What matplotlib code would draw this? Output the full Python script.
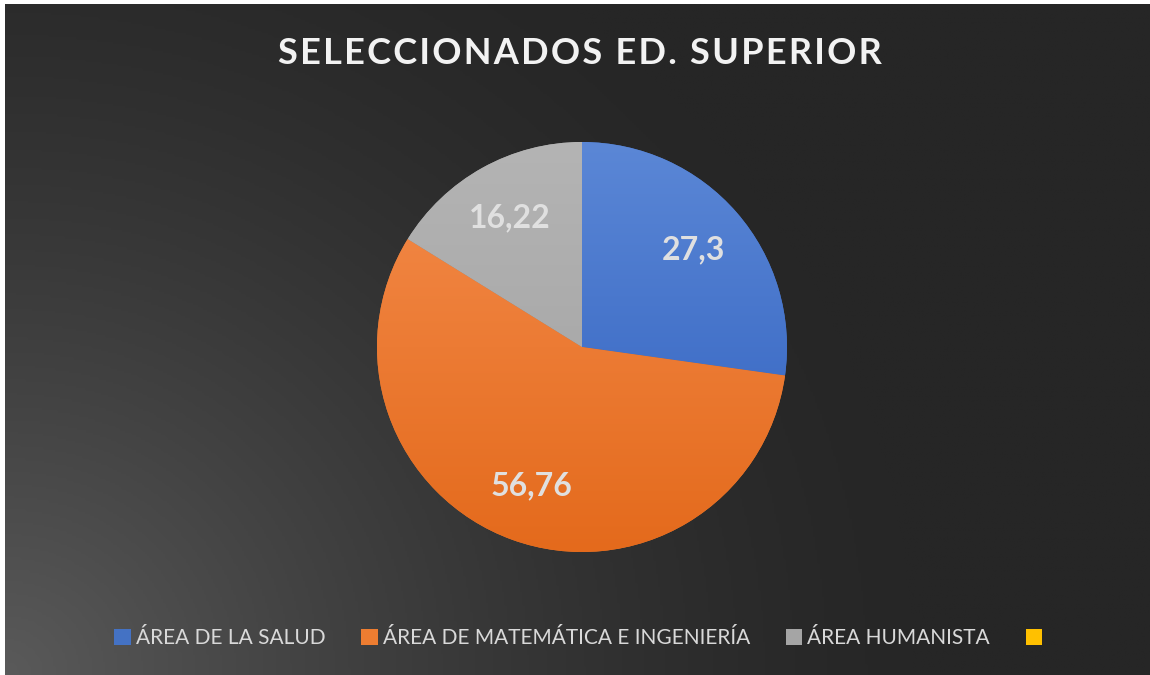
import matplotlib.pyplot as plt
import numpy as np
from matplotlib.colors import LinearSegmentedColormap
from matplotlib.patches import Patch

plt.rcParams['font.family'] = ['Lato', 'DejaVu Sans']

titulo = "SELECCIONADOS ED. SUPERIOR"
areas = ["ÁREA DE LA SALUD", "ÁREA DE MATEMÁTICA E INGENIERÍA", "ÁREA HUMANISTA", ""]
valores = [27.3, 56.76, 16.22, 0.0]
colores = ["#4472C4", "#ED7D31", "#A5A5A5", "#FFC000"]
# tonos claro (arriba) / oscuro (abajo) de cada sector
grad_claro = ["#5B87D6", "#F48C4C", "#B4B4B4", "#FFCC33"]
grad_oscuro = ["#2E5FBE", "#E46A1C", "#A0A0A0", "#EDB500"]

fig = plt.figure(figsize=(11.5, 6.75), dpi=100)
fig.patch.set_facecolor("white")

# fondo oscuro con degradado radial desde abajo a la izquierda
bg = fig.add_axes([5 / 1150, 0, 1 - 5 / 1150, 1 - 4 / 675])
bg.set_axis_off()
yy, xx = np.mgrid[0:1:300j, 0:1:500j]
d = np.sqrt((xx * 1.6) ** 2 + (yy * 1.0) ** 2)
fondo = np.clip(1 - d / 1.3, 0, 1) ** 1.5
cmap_bg = LinearSegmentedColormap.from_list("bg", ["#262626", "#5A5A5A"])
bg.imshow(fondo, cmap=cmap_bg, origin="lower", extent=[0, 1, 0, 1], aspect="auto")
bg.set_xlim(0, 1)
bg.set_ylim(0, 1)

# titulo con algo de espaciado entre letras
fig.text(0.504, 0.921, "\u200a".join(list(titulo)), ha="center", va="center",
         fontsize=26, fontweight="bold", color="#F2F2F2")

ax = fig.add_axes([0, 0, 1, 1])
ax.set_axis_off()

cx, cy, r = 582, 675 - 347, 205
wedges, _, pcts = ax.pie(valores[:3], colors=colores[:3], startangle=90, counterclock=False,
                         center=(cx, cy), radius=r, pctdistance=0.72,
                         autopct=lambda p: "", frame=True,
                         wedgeprops=dict(linewidth=0))
ax.set_xlim(0, 1150)
ax.set_ylim(0, 675)
ax.set_aspect("equal")
ax.set_axis_off()

for w, c1, c2 in zip(wedges, grad_claro, grad_oscuro):
    cm = LinearSegmentedColormap.from_list("g", [c1, c2])
    grad = np.linspace(0, 1, 256).reshape(-1, 1)
    im = ax.imshow(grad, cmap=cm, extent=[cx - r, cx + r, cy - r, cy + r],
                   origin="upper", aspect="auto", zorder=w.get_zorder() + 0.1)
    im.set_clip_path(w)

for t, v in zip(pcts, valores[:3]):
    t.set_text(f"{v:g}".replace(".", ","))
    t.set_fontsize(23)
    t.set_fontweight("bold")
    t.set_color("#E0E0E0")
    t.set_zorder(10)

ax.set_xlim(0, 1150)
ax.set_ylim(0, 675)

handles = [Patch(facecolor=c, edgecolor="none") for c in colores]
leg = fig.legend(handles, areas, loc="center", bbox_to_anchor=(0.505, 0.055), ncol=4,
                 frameon=False, fontsize=15, labelcolor="#D9D9D9",
                 handlelength=0.8, handleheight=0.8, handletextpad=0.25,
                 columnspacing=1.7)

fig.savefig("out.png", dpi=100)
